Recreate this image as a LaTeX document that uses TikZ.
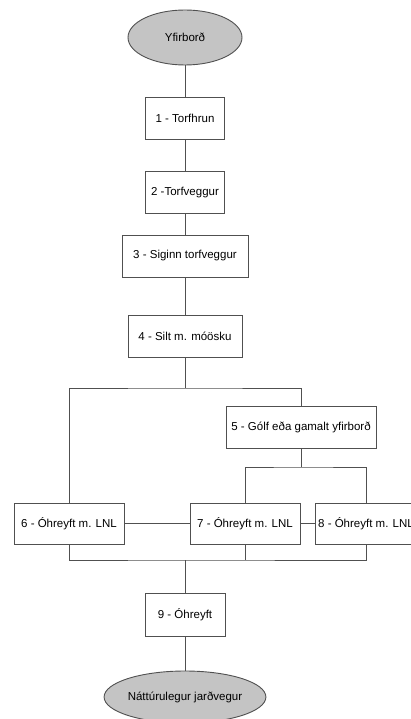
\documentclass[tikz,border=0pt]{standalone}
\usepackage{fontspec}
\setmainfont{Liberation Sans}
\usepackage{tikz}
\usetikzlibrary{shapes.geometric}

\definecolor{linegray}{HTML}{505050}
\definecolor{ovalgray}{HTML}{C4C4C4}

\begin{document}
\begin{tikzpicture}[x=1pt,y=-1pt,
  font=\fontsize{11.5}{13}\selectfont,
  layer/.style={draw=linegray,line width=0.9pt,fill=white,inner sep=0pt,minimum height=42pt},
  oval/.style={draw=linegray,line width=0.9pt,fill=ovalgray,ellipse,inner sep=0pt},
  conn/.style={draw=linegray,line width=0.9pt}]
\clip (0,0) rectangle (411,719);
\fill[white] (0,0) rectangle (411,719);
\node[oval,minimum width=114pt,minimum height=55pt] (top) at (185,37.5){Yfirborð};
\node[layer,minimum width=79pt] (L1) at (185,118){1 - Torfhrun};
\node[layer,minimum width=79pt] (L2) at (185,192.5){2 -Torfveggur};
\node[layer,minimum width=126pt] (L3) at (185,256){3 - Siginn torfveggur};
\node[layer,minimum width=114pt] (L4) at (185,336.5){4 - Silt m. móösku};
\node[layer,minimum width=150pt] (L5) at (301,427){5 - Gólf eða gamalt yfirborð};
\node[layer,minimum width=110pt,minimum height=41pt] (L6) at (69,523.5){6 - Óhreyft m. LNL};
\node[layer,minimum width=110pt,minimum height=41pt] (L7) at (245,523.5){7 - Óhreyft m. LNL};
\node[layer,minimum width=102pt,minimum height=41pt] (L8) at (366,523.5){8 - Óhreyft m. LNL};
\node[layer,minimum width=80pt,minimum height=43pt] (L9) at (185,614.5){9 - Óhreyft};
\node[oval,minimum width=125pt,minimum height=52pt] (bottom) at (185,697){Náttúrulegur jarðvegur};
\coordinate (J4) at (185,388);
\coordinate (J5) at (301,467);
\coordinate (J9) at (185,560);
% main column
\draw[conn] (top) -- (L1);
\draw[conn] (L1) -- (L2);
\draw[conn] (L2) -- (L3);
\draw[conn] (L3) -- (L4);
\draw[conn] (L4) -- (J4);
\draw[conn] (L6) |- (J4) -| (L5);
\draw[conn] (L5) -- (J5);
\draw[conn] (L7) |- (J5) -| (L8);
\draw[conn] (L6) -- (L7);
\draw[conn] (L7) -- (L8);
% join below
\draw[conn] (L6) |- (J9) -| (L8);
\draw[conn] (L7) -- (L7 |- J9);
\draw[conn] (J9) -- (L9);
\draw[conn] (L9) -- (bottom);
\end{tikzpicture}
\end{document}
